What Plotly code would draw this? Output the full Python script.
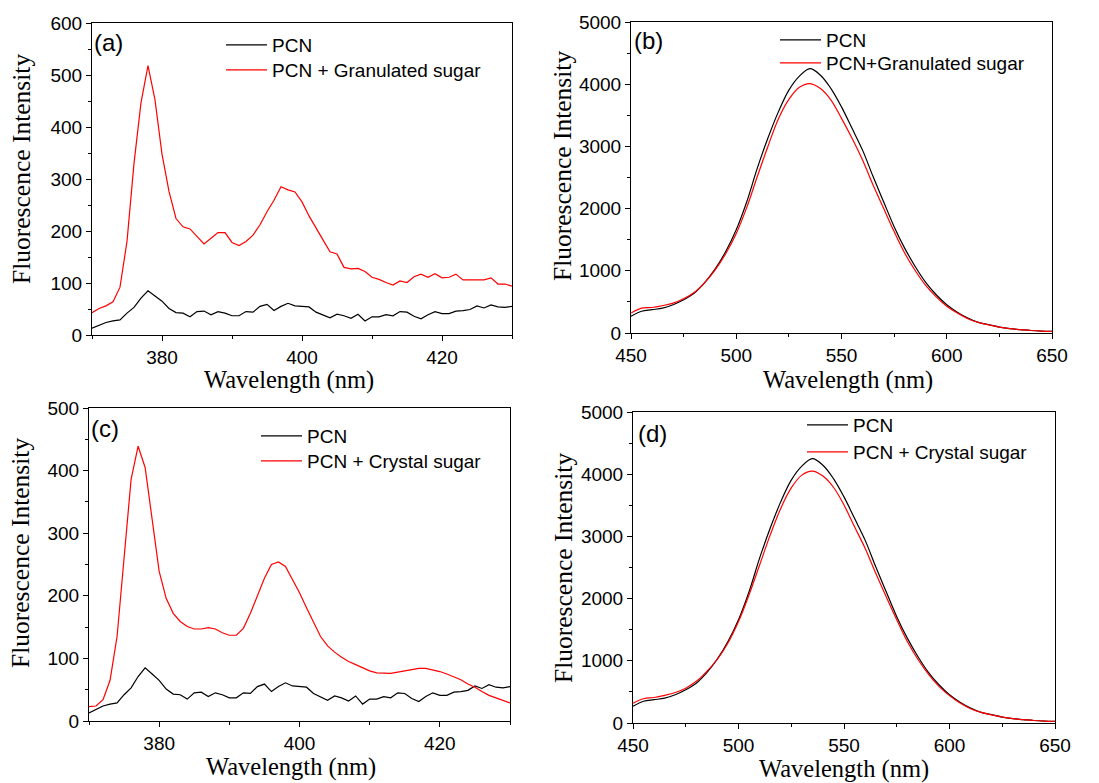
import plotly.graph_objects as go

W, H = 1099, 783

# ---------------- data ----------------
wl_uv = list(range(370, 431))  # 370..430 nm, 1 nm step

pcn_uv = [13, 19, 24, 27, 29, 42, 53, 71, 85, 75,
          65, 51, 43, 42, 35, 45, 46, 39, 45, 42,
          37, 37, 45, 44, 55, 59, 47, 55, 61, 56,
          55, 54, 44, 38, 33, 40, 37, 32, 40, 27,
          35, 35, 39, 37, 45, 44, 36, 31, 39, 45,
          41, 41, 46, 47, 49, 56, 52, 58, 54, 53,
          55]

granulated_uv = [43, 51, 56, 64, 92, 180, 330, 447, 518, 452,
                 348, 276, 224, 208, 204, 189, 175, 186, 197, 197,
                 178, 172, 180, 192, 212, 237, 259, 285, 279, 275,
                 256, 229, 207, 183, 160, 156, 130, 127, 128, 122,
                 111, 107, 101, 96, 104, 101, 112, 117, 111, 118,
                 110, 111, 117, 106, 106, 106, 106, 110, 98, 98,
                 94]

crystal_uv = [23, 24, 34, 65, 135, 258, 386, 439, 405, 322,
              239, 196, 172, 159, 151, 147, 147, 149, 147, 141,
              137, 137, 148, 172, 199, 228, 250, 254, 247, 226,
              205, 181, 157, 135, 120, 110, 102, 95, 90, 85,
              80, 77, 76, 76, 78, 80, 83, 84, 84, 82,
              79, 75, 71, 66, 59, 54, 47, 41, 37, 33,
              29]

wl_vis = list(range(450, 651, 5))  # 450..650 nm, 5 nm step

pcn_vis = [270, 350, 375, 400, 455, 535, 640, 810, 1030, 1310,
           1660, 2110, 2650, 3130, 3555, 3905, 4130, 4250, 4145, 3930,
           3635, 3290, 2940, 2515, 2110, 1710, 1365, 1070, 815, 615,
           455, 335, 240, 170, 135, 95, 70, 55, 40, 30,
           25]

granulated_vis = [320, 400, 410, 440, 480, 550, 650, 810, 1015, 1275,
                  1600, 2020, 2515, 2995, 3440, 3755, 3950, 4010, 3930, 3745,
                  3450, 3130, 2780, 2380, 2005, 1630, 1285, 1005, 765, 580,
                  430, 320, 230, 170, 130, 95, 70, 55, 40, 30,
                  25]

crystal_vis = [320, 390, 410, 445, 490, 560, 670, 830, 1025, 1285,
               1630, 2060, 2540, 3020, 3450, 3780, 3985, 4050, 3970, 3790,
               3505, 3155, 2810, 2410, 2030, 1660, 1310, 1025, 785, 590,
               440, 320, 230, 170, 130, 95, 70, 55, 40, 30,
               25]

# ---------------- helpers ----------------
def px(x):
    return x / W

def py(y):
    return 1 - y / H

SANS = "Liberation Sans, Arial, sans-serif"
SERIF = "Liberation Serif, Times New Roman, serif"
BLACK = "#000000"
RED = "#ff0000"

fig = go.Figure()

panels = [
    # axis suffix, x, y(black), y(red), red name, legend ids, line shape
    ("", wl_uv, pcn_uv, granulated_uv, "PCN + Granulated sugar", ("legend", "legend2"), "linear"),
    ("2", wl_vis, pcn_vis, granulated_vis, "PCN+Granulated sugar", ("legend3", "legend4"), "spline"),
    ("3", wl_uv, pcn_uv, crystal_uv, "PCN + Crystal sugar", ("legend5", "legend6"), "linear"),
    ("4", wl_vis, pcn_vis, crystal_vis, "PCN + Crystal sugar", ("legend7", "legend8"), "spline"),
]

for suf, xs, yb, yr, rname, legs, shape in panels:
    fig.add_trace(go.Scatter(x=xs, y=yb, mode="lines", name="PCN",
                             line=dict(color=BLACK, width=1.2, shape=shape),
                             xaxis="x" + suf, yaxis="y" + suf, legend=legs[0]))
    fig.add_trace(go.Scatter(x=xs, y=yr, mode="lines", name=rname,
                             line=dict(color=RED, width=1.2, shape=shape),
                             xaxis="x" + suf, yaxis="y" + suf, legend=legs[1]))

# plot-area boxes in pixels: left, right, top, bottom
boxes = {
    "": (92, 512, 23, 335),
    "2": (631, 1052, 22, 333),
    "3": (89, 510, 408, 721),
    "4": (633, 1055, 412, 723),
}
xranges = {"": [370, 430], "2": [450, 650], "3": [370, 430], "4": [450, 650]}
yranges = {"": [0, 600], "2": [0, 5000], "3": [0, 500], "4": [0, 5000]}
xdt = {"": (20, 10), "2": (50, 25), "3": (20, 10), "4": (50, 25)}
ydt = {"": (100, 50), "2": (1000, 500), "3": (100, 50), "4": (1000, 500)}

common = dict(showline=True, linecolor=BLACK, linewidth=1, mirror=True,
              ticks="outside", ticklen=5, tickwidth=1, tickcolor=BLACK,
              showgrid=False, zeroline=False, automargin=False,
              tickfont=dict(family=SANS, size=19, color=BLACK))

layout = {}
for suf, (l, r, t, b) in boxes.items():
    xa = dict(common)
    xa.update(domain=[px(l), px(r)], range=xranges[suf], tick0=0, dtick=xdt[suf][0],
              minor=dict(dtick=xdt[suf][1], ticks="outside", ticklen=3, tickcolor=BLACK),
              anchor="y" + suf)
    ya = dict(common)
    ya.update(domain=[py(b), py(t)], range=yranges[suf], tick0=0, dtick=ydt[suf][0],
              minor=dict(dtick=ydt[suf][1], ticks="outside", ticklen=3, tickcolor=BLACK),
              anchor="x" + suf)
    layout["xaxis" + suf] = xa
    layout["yaxis" + suf] = ya

leg_common = dict(bgcolor="rgba(0,0,0,0)", borderwidth=0,
                  font=dict(family=SANS, size=19, color=BLACK),
                  xanchor="left", yanchor="top", itemwidth=41,
                  tracegroupgap=0)
# (left px of legend, top px of legend) for each single-entry legend
legend_pos = {
    "legend": (221, 26), "legend2": (221, 51),
    "legend3": (775, 21), "legend4": (775, 44),
    "legend5": (256, 417), "legend6": (256, 442),
    "legend7": (802, 406), "legend8": (802, 433),
}
for k, (lx, ly) in legend_pos.items():
    d = dict(leg_common)
    d.update(x=px(lx), y=py(ly))
    layout[k] = d

fig.update_layout(**layout)

annotations = []
# panel labels
for txt, (ax, ay) in {"(a)": (108, 42), "(b)": (648, 40), "(c)": (105, 428), "(d)": (652, 433)}.items():
    annotations.append(dict(text=txt, x=px(ax), y=py(ay), xref="paper", yref="paper",
                            xanchor="center", yanchor="middle", showarrow=False,
                            font=dict(family=SANS, size=24, color=BLACK)))
# x-axis titles
for (ax, ay) in [(289, 380), (848, 380), (291, 767), (844, 769)]:
    annotations.append(dict(text="Wavelength (nm)", x=px(ax), y=py(ay), xref="paper", yref="paper",
                            xanchor="center", yanchor="middle", showarrow=False,
                            font=dict(family=SERIF, size=24.5, color=BLACK)))
# y-axis titles
for (ax, ay) in [(22, 169), (563, 166), (20, 553), (563, 568)]:
    annotations.append(dict(text="Fluorescence Intensity", x=px(ax), y=py(ay), xref="paper", yref="paper",
                            xanchor="center", yanchor="middle", showarrow=False, textangle=-90,
                            font=dict(family=SERIF, size=25.5, color=BLACK)))

fig.update_layout(
    width=W, height=H,
    margin=dict(l=0, r=0, t=0, b=0, autoexpand=False),
    paper_bgcolor="white", plot_bgcolor="white",
    showlegend=True,
    hovermode=False,
    annotations=annotations,
)

fig.write_html("out.html",
               config={"displayModeBar": False, "staticPlot": True},
               post_script="document.body.style.margin='0px';document.body.style.overflow='hidden';")
